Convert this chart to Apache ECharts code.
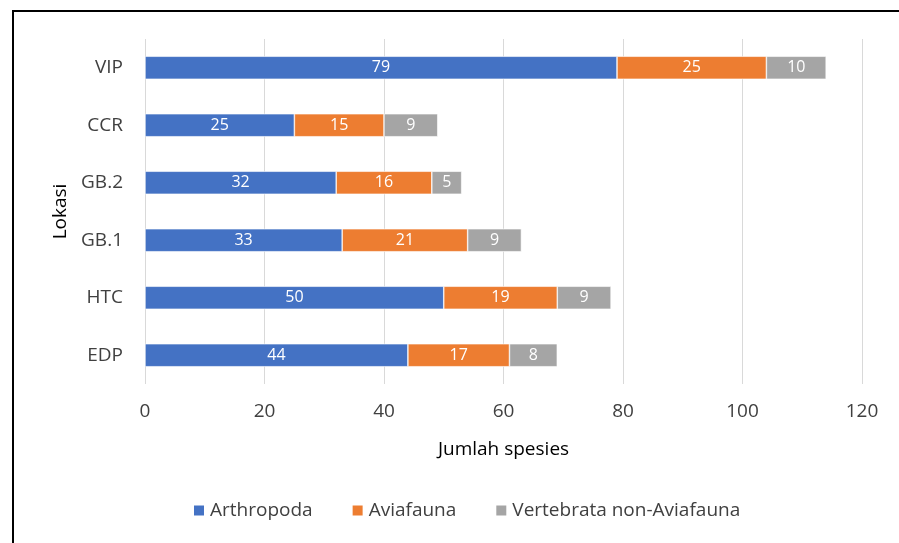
<!DOCTYPE html>
<html>
<head>
<meta charset="utf-8">
<script src="https://cdn.jsdelivr.net/npm/echarts@6/dist/echarts.min.js"></script>
<style>
  html, body { margin: 0; padding: 0; background: #fff; }
  #chart { width: 899px; height: 543px; }
</style>
</head>
<body>
<div id="chart"></div>
<script>
// Locations, listed bottom to top on the category axis
const lokasi = ['EDP', 'HTC', 'GB.1', 'GB.2', 'CCR', 'VIP'];
const arthropoda = [44, 50, 33, 32, 25, 79];
const aviafauna = [17, 19, 21, 16, 15, 25];
const vertebrataNonAviafauna = [8, 9, 9, 5, 9, 10];
const xTicks = [0, 20, 40, 60, 80, 100, 120];

const FONT = '"Open Sans", "Noto Sans", sans-serif';

const chart = echarts.init(document.getElementById('chart'), null, { renderer: 'canvas' });

function barSeries(name, data, color) {
  return {
    name: name,
    type: 'bar',
    stack: 'total',
    data: data,
    barWidth: 23,
    itemStyle: { color: color, borderColor: '#ffffff', borderWidth: 0.6 },
    label: {
      show: true,
      position: 'inside',
      color: '#ffffff',
      fontFamily: FONT,
      fontSize: 16
    },
    emphasis: { disabled: true }
  };
}

chart.setOption({
  animation: false,
  backgroundColor: '#ffffff',
  textStyle: { fontFamily: FONT },
  grid: { left: 145, right: 37, top: 39, bottom: 159, containLabel: false },
  xAxis: {
    type: 'value',
    min: xTicks[0],
    max: xTicks[xTicks.length - 1],
    interval: 20,
    name: 'Jumlah spesies',
    nameLocation: 'middle',
    nameGap: 56,
    nameTextStyle: { color: '#000000', fontSize: 19, fontFamily: FONT },
    axisLine: { show: false },
    axisTick: { show: false },
    axisLabel: { color: '#404040', fontSize: 19, margin: 18, fontFamily: FONT },
    splitLine: { show: true, lineStyle: { color: '#d9d9d9', width: 1 } }
  },
  yAxis: {
    type: 'category',
    data: lokasi,
    name: 'Lokasi',
    nameLocation: 'middle',
    nameGap: 74,
    nameRotate: 90,
    nameTextStyle: { color: '#000000', fontSize: 19, fontFamily: FONT },
    axisLine: { show: false },
    axisTick: { show: false },
    axisLabel: { color: '#404040', fontSize: 19, margin: 22, fontFamily: FONT }
  },
  legend: {
    bottom: 18,
    left: 187,
    itemWidth: 12,
    itemHeight: 12,
    itemGap: 38,
    icon: 'rect',
    textStyle: { color: '#404040', fontSize: 19, fontFamily: FONT },
    data: ['Arthropoda', 'Aviafauna', 'Vertebrata non-Aviafauna']
  },
  graphic: [
    { type: 'line', shape: { x1: 12, y1: 11, x2: 899, y2: 11 }, style: { stroke: '#000', lineWidth: 2 } },
    { type: 'line', shape: { x1: 13, y1: 10, x2: 13, y2: 543 }, style: { stroke: '#000', lineWidth: 2 } }
  ],
  series: [
    barSeries('Arthropoda', arthropoda, '#4472c4'),
    barSeries('Aviafauna', aviafauna, '#ed7d31'),
    barSeries('Vertebrata non-Aviafauna', vertebrataNonAviafauna, '#a5a5a5')
  ]
});
</script>
</body>
</html>
